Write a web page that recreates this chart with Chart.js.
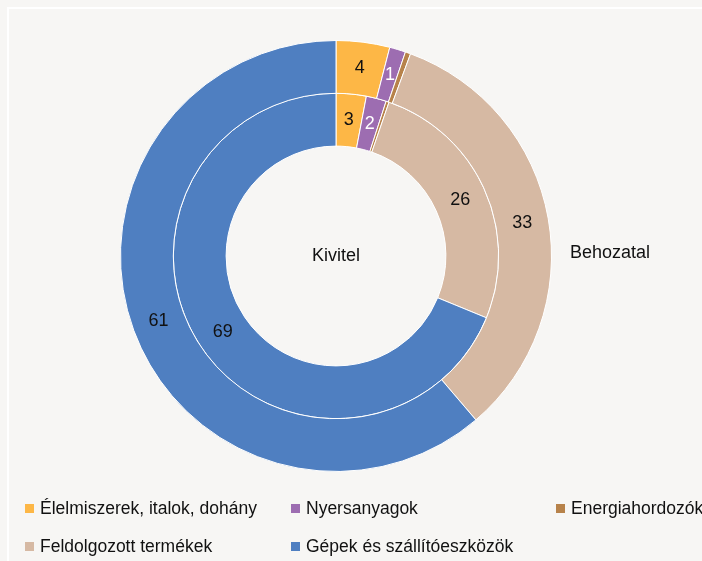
<!DOCTYPE html>
<html>
<head>
<meta charset="utf-8">
<script src="https://cdn.jsdelivr.net/npm/chart.js@4"></script>
<style>
html,body{margin:0;padding:0;background:#f7f6f4;}
#wrap{position:relative;width:702px;height:561px;overflow:hidden;background:#f7f6f4;font-family:"Liberation Sans",Arial,sans-serif;}
#frame{position:absolute;left:7px;top:7px;width:720px;height:600px;border-top:2px solid #fff;border-left:2px solid #fff;}
canvas{position:absolute;left:0;top:0;}
.lg{position:absolute;font-size:17.5px;color:#111;white-space:nowrap;line-height:20px;}
.lg i{display:inline-block;width:9px;height:9px;margin-right:6px;vertical-align:1px;}
</style>
</head>
<body>
<div id="wrap">
<div id="frame"></div>
<canvas id="c" width="702" height="561"></canvas>
<div id="legend"></div>
</div>
<script>
const categories = ["Élelmiszerek, italok, dohány","Nyersanyagok","Energiahordozók","Feldolgozott termékek","Gépek és szállítóeszközök"];
const colors = ["#fdb746","#9d6db1","#b7824a","#d6b9a3","#4f7fc1"];
const importValues = [4, 1.2, 0.4, 33, 61];   // Behozatal (outer ring)
const exportValues = [3, 2, 0.3, 26, 69];     // Kivitel (inner ring)
const importLabels = ["4","1","","33","61"];
const exportLabels = ["3","2","","26","69"];
const labelColors = ["#111","#fff","#111","#111","#111"];

const legendPos = [[25,498],[291,498],[556,498],[25,536],[291,536]];
const lg = document.getElementById('legend');
categories.forEach((c,i)=>{
  const d=document.createElement('div');
  d.className='lg';
  d.style.left=legendPos[i][0]+'px';
  d.style.top=legendPos[i][1]+'px';
  d.innerHTML='<i style="background:'+colors[i]+'"></i>'+c;
  lg.appendChild(d);
});

const labelPlugin = {
  id:'labels',
  afterDatasetsDraw(chart){
    const ctx=chart.ctx;
    ctx.save();
    ctx.font='18px "Liberation Sans", Arial, sans-serif';
    ctx.textAlign='center';
    ctx.textBaseline='middle';
    const sets=[importLabels, exportLabels];
    chart.data.datasets.forEach((ds,di)=>{
      const meta=chart.getDatasetMeta(di);
      meta.data.forEach((arc,i)=>{
        const t=sets[di][i];
        if(!t) return;
        const p=arc.tooltipPosition();
        ctx.fillStyle=labelColors[i];
        ctx.fillText(t,p.x,p.y);
      });
    });
    const a=chart.getDatasetMeta(0).data[0];
    ctx.fillStyle='#111';
    ctx.fillText('Kivitel',a.x,a.y);
    ctx.textAlign='left';
    ctx.fillText('Behozatal',a.x+234,a.y-3);
    ctx.restore();
  }
};

new Chart(document.getElementById('c'),{
  type:'doughnut',
  data:{
    labels:categories,
    datasets:[
      {label:'Behozatal',data:importValues,backgroundColor:colors,borderColor:'#ffffff',borderWidth:1},
      {label:'Kivitel',data:exportValues,backgroundColor:colors,borderColor:'#ffffff',borderWidth:1}
    ]
  },
  options:{
    responsive:false,
    animation:false,
    cutout:'51%',
    layout:{padding:{left:120,right:150,top:40,bottom:89}},
    plugins:{legend:{display:false},tooltip:{enabled:false}}
  },
  plugins:[labelPlugin]
});
</script>
</body>
</html>
